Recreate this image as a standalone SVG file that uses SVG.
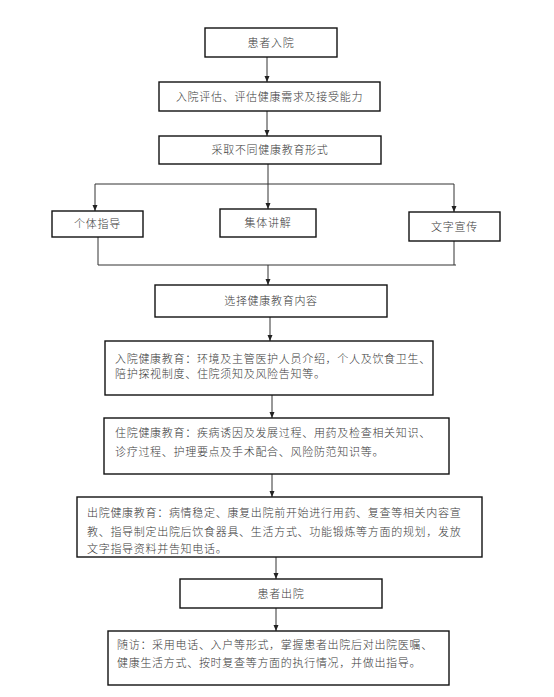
<svg xmlns="http://www.w3.org/2000/svg" width="554" height="697" viewBox="0 0 554 697">
<style>
.box{fill:#fff;stroke:#111;stroke-width:1.4}
.ln{fill:none;stroke:#333;stroke-width:1}
.t{font-family:"Noto Sans CJK SC","Noto Sans",sans-serif;font-size:11px;font-weight:300;letter-spacing:0.7px;fill:#3a3a3a}
.c{text-anchor:middle}
</style>
<defs>
<marker id="ah" viewBox="0 0 6 6" refX="6" refY="3" markerWidth="6" markerHeight="6" orient="auto" markerUnits="userSpaceOnUse">
<path d="M0,0.5 L6,3 L0,5.5 Z" fill="#222"/>
</marker>
</defs>
<rect width="554" height="697" fill="#fff"/>
<g id="connectors">
<line class="ln" x1="267" y1="57" x2="267" y2="82" marker-end="url(#ah)"/>
<line class="ln" x1="267" y1="111" x2="267" y2="136" marker-end="url(#ah)"/>
<line class="ln" x1="268" y1="164" x2="268" y2="209" marker-end="url(#ah)"/>
<line class="ln" x1="95" y1="184" x2="454" y2="184"/>
<line class="ln" x1="95" y1="184" x2="95" y2="211" marker-end="url(#ah)"/>
<line class="ln" x1="454" y1="184" x2="454" y2="212" marker-end="url(#ah)"/>
<polyline class="ln" points="98,237 98,265 456,265"/>
<line class="ln" x1="454" y1="241" x2="454" y2="265"/>
<line class="ln" x1="268" y1="265" x2="268" y2="285" marker-end="url(#ah)"/>
<line class="ln" x1="270" y1="317" x2="270" y2="341" marker-end="url(#ah)"/>
<line class="ln" x1="272" y1="395" x2="272" y2="418" marker-end="url(#ah)"/>
<line class="ln" x1="272" y1="474" x2="272" y2="497" marker-end="url(#ah)"/>
<line class="ln" x1="276" y1="557" x2="276" y2="579" marker-end="url(#ah)"/>
<line class="ln" x1="276" y1="608" x2="276" y2="631" marker-end="url(#ah)"/>
</g>
<g id="n1"><rect class="box" x="205" y="28" width="132" height="29"/><text class="t c" x="271" y="46.5">患者入院</text></g>
<g id="n2"><rect class="box" x="159" y="82" width="221" height="29"/><text class="t c" x="269.5" y="100.5">入院评估、评估健康需求及接受能力</text></g>
<g id="n3"><rect class="box" x="159" y="136" width="222" height="28"/><text class="t c" x="270" y="154">采取不同健康教育形式</text></g>
<g id="n4"><rect class="box" x="52" y="211" width="91" height="26"/><text class="t c" x="97.5" y="228">个体指导</text></g>
<g id="n5"><rect class="box" x="220" y="209" width="96" height="28"/><text class="t c" x="268" y="227">集体讲解</text></g>
<g id="n6"><rect class="box" x="409" y="212" width="91" height="29"/><text class="t c" x="454.5" y="230.5">文字宣传</text></g>
<g id="n7"><rect class="box" x="155" y="285" width="232" height="32"/><text class="t c" x="271" y="305">选择健康教育内容</text></g>
<g id="n8"><rect class="box" x="105" y="341" width="328" height="54"/>
<text class="t" x="115" y="363">入院健康教育：环境及主管医护人员介绍，个人及饮食卫生、</text>
<text class="t" x="115" y="378">陪护探视制度、住院须知及风险告知等。</text></g>
<g id="n9"><rect class="box" x="104" y="418" width="345" height="56"/>
<text class="t" x="115" y="437">住院健康教育：疾病诱因及发展过程、用药及检查相关知识、</text>
<text class="t" x="115" y="456">诊疗过程、护理要点及手术配合、风险防范知识等。</text></g>
<g id="n10"><rect class="box" x="77" y="497" width="405" height="60"/>
<text class="t" x="87" y="517">出院健康教育：病情稳定、康复出院前开始进行用药、复查等相关内容宣</text>
<text class="t" x="87" y="536">教、指导制定出院后饮食器具、生活方式、功能锻炼等方面的规划，发放</text>
<text class="t" x="87" y="553">文字指导资料并告知电话。</text></g>
<g id="n11"><rect class="box" x="180" y="579" width="202" height="29"/><text class="t c" x="281" y="597.5">患者出院</text></g>
<g id="n12"><rect class="box" x="108" y="631" width="341" height="54"/>
<text class="t" x="117" y="649">随访：采用电话、入户等形式，掌握患者出院后对出院医嘱、</text>
<text class="t" x="117" y="667">健康生活方式、按时复查等方面的执行情况，并做出指导。</text></g>
</svg>
